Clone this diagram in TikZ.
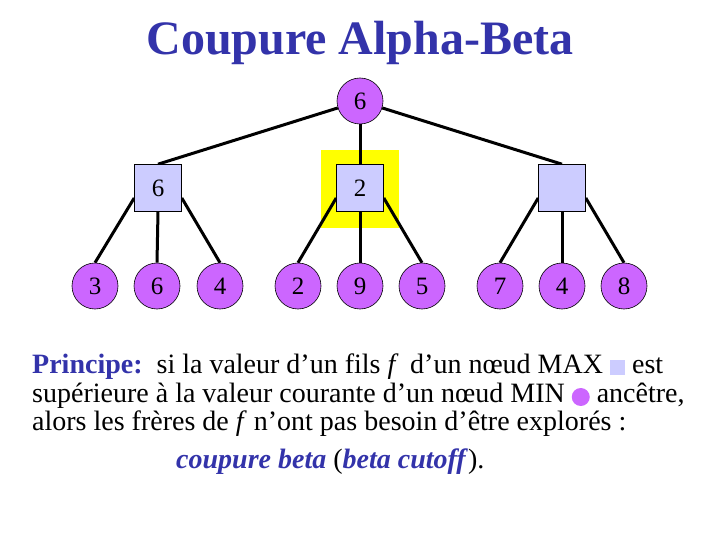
\documentclass[tikz,border=0pt]{standalone}
\usepackage{fontspec}
\setmainfont{Liberation Serif}
\usetikzlibrary{calc}
\definecolor{minc}{RGB}{204,102,255}
\definecolor{maxc}{RGB}{204,204,255}
\definecolor{titlec}{RGB}{51,51,170}
\definecolor{hl}{RGB}{255,255,0}
\pgfdeclarelayer{bg}
\pgfdeclarelayer{edges}
\pgfsetlayers{bg,edges,main}
\begin{document}
\begin{tikzpicture}[x=1pt,y=-1pt,
  minnode/.style={circle,draw=black,line width=0.6pt,fill=minc,minimum size=46pt,inner sep=0pt,font=\fontsize{25}{25}\selectfont},
  maxnode/.style={rectangle,draw=black,line width=0.6pt,fill=maxc,minimum size=47pt,inner sep=0pt,font=\fontsize{25}{25}\selectfont},
  edge/.style={line width=3pt,black},
  bodytext/.style={anchor=base west,inner sep=0pt,font=\fontsize{28}{28}\selectfont}]
\useasboundingbox (0,0) rectangle (720,540);
\begin{pgfonlayer}{bg}
\fill[white] (0,0) rectangle (720,540);
\fill[hl] (321,150) rectangle (399,228);
\end{pgfonlayer}
\node[font=\fontsize{48}{48}\selectfont\bfseries,text=titlec,anchor=base,inner sep=0pt] (title) at (360,55) {Coupure Alpha-Beta};
\node[minnode] (root) at (360,101) {6};
\node[maxnode] (a) at (158,188) {6};
\node[maxnode] (b) at (360,188) {2};
\node[maxnode] (c) at (562,188) {};
\foreach \n/\x/\v in {l1/95/3,l2/157/6,l3/220/4,l4/298/2,l5/360/9,l6/422/5,l7/500/7,l8/562/4,l9/624/8}{
  \node[minnode] (\n) at (\x,286) {\v};
}
\begin{pgfonlayer}{edges}
\draw[edge] (root) -- (a.north);
\draw[edge] (root) -- (b);
\draw[edge] (root) -- (c.north);
\foreach \p/\q/\m/\r in {a/l1/l2/l3,b/l4/l5/l6,c/l7/l8/l9}{
  \draw[edge] (\q.north) -- ($(\p.west)+(0,10)$);
  \draw[edge] (\m.north) -- (\p.south);
  \draw[edge] (\r.north) -- ($(\p.east)+(0,10)$);
}
\end{pgfonlayer}
% text
\node[bodytext] (t1) at (32,373) {\textcolor{titlec}{\textbf{Principe:}}\ \ si la valeur d’un fils \textit{f}\, d’un nœud MAX \textcolor{maxc}{\rule[-1.5pt]{15pt}{15pt}} est};
\node[bodytext] (t2) at (32,402) {supérieure à la valeur courante d’un nœud MIN \tikz[baseline=-5pt]\fill[minc] (0,0) circle (9pt); ancêtre,};
\node[bodytext] (t3) at (32,430) {alors les frères de \textit{f} n’ont pas besoin d’être explorés :};
\node[bodytext] (t4) at (176,468) {\textcolor{titlec}{\textbf{\textit{coupure beta}}} (\textcolor{titlec}{\textbf{\textit{beta cutoff}}}).};
\end{tikzpicture}
\end{document}
